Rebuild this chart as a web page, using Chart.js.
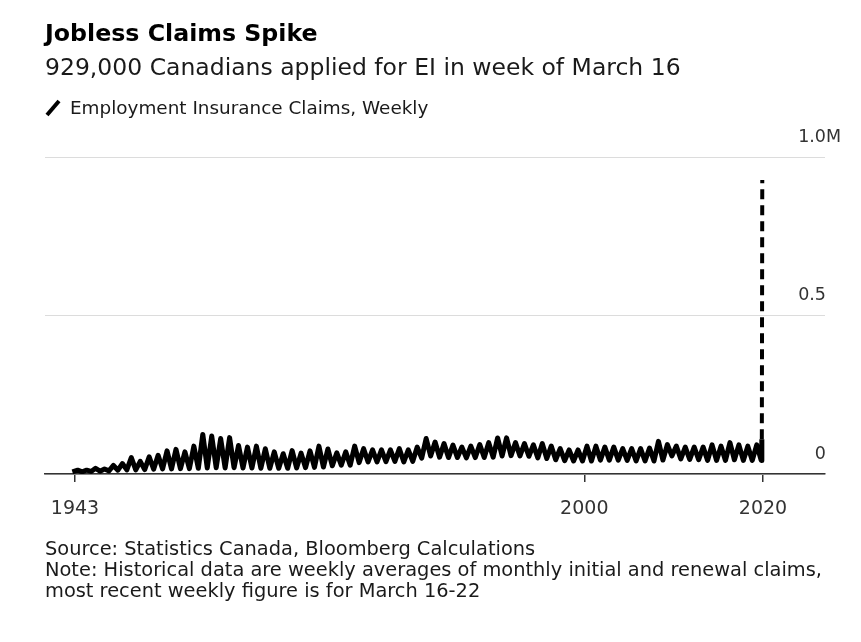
<!DOCTYPE html>
<html>
<head>
<meta charset="utf-8">
<script src="https://cdn.jsdelivr.net/npm/chart.js@4"></script>
<style>
  body { margin: 0; background: #fff; font-family: "DejaVu Sans", sans-serif; }
  #wrap { position: relative; width: 861px; height: 642px; overflow: hidden; }
  #chart { position: absolute; left: 0; top: 0; }
  .t { position: absolute; left: 45px; white-space: nowrap; line-height: 1; color: #1a1a1a; }
  #title { top: 22px; font-size: 23.7px; font-weight: bold; color: #000; }
  #sub { top: 56px; font-size: 23.5px; }
  #leg { top: 99px; left: 70px; font-size: 18.4px; }
  #icon { position: absolute; left: 44px; top: 99px; }
  #src { top: 538px; font-size: 19.4px; line-height: 21px; }
</style>
</head>
<body>
<div id="wrap">
  <canvas id="chart" width="861" height="642"></canvas>
  <div class="t" id="title">Jobless Claims Spike</div>
  <div class="t" id="sub">929,000 Canadians applied for EI in week of March 16</div>
  <svg id="icon" width="18" height="18"><line x1="3" y1="16" x2="15" y2="2" stroke="#000" stroke-width="4"/></svg>
  <div class="t" id="leg">Employment Insurance Claims, Weekly</div>
  <div class="t" id="src">Source: Statistics Canada, Bloomberg Calculations<br>Note: Historical data are weekly averages of monthly initial and renewal claims,<br>most recent weekly figure is for March 16-22</div>
</div>
<script>
// claims in thousands, seasonal high and low of each year
const years = [1943, 1944, 1945, 1946, 1947, 1948, 1949, 1950, 1951, 1952,
  1953, 1954, 1955, 1956, 1957, 1958, 1959, 1960, 1961, 1962,
  1963, 1964, 1965, 1966, 1967, 1968, 1969, 1970, 1971, 1972,
  1973, 1974, 1975, 1976, 1977, 1978, 1979, 1980, 1981, 1982,
  1983, 1984, 1985, 1986, 1987, 1988, 1989, 1990, 1991, 1992,
  1993, 1994, 1995, 1996, 1997, 1998, 1999, 2000, 2001, 2002,
  2003, 2004, 2005, 2006, 2007, 2008, 2009, 2010, 2011, 2012,
  2013, 2014, 2015, 2016, 2017, 2018, 2019];
const peaks = [12, 12, 18, 16, 27, 33, 52, 40, 54, 59,
  73, 78, 70, 88, 125, 120, 112, 115, 90, 85,
  88, 80, 70, 64, 74, 66, 73, 88, 79, 67,
  70, 88, 80, 76, 76, 76, 80, 76, 85, 112,
  101, 96, 91, 85, 88, 93, 99, 114, 114, 99,
  96, 92, 96, 88, 80, 76, 76, 88, 88, 85,
  85, 80, 80, 80, 82, 103, 93, 88, 85, 85,
  85, 92, 88, 99, 92, 88, 92];
const troughs = [7, 8, 9, 10, 12, 13, 13, 14, 15, 16,
  16, 17, 17, 18, 19, 20, 19, 20, 19, 19,
  18, 18, 18, 18, 19, 20, 21, 22, 26, 28,
  28, 36, 38, 38, 39, 40, 38, 40, 50, 57,
  53, 52, 52, 51, 52, 52, 53, 57, 58, 57,
  56, 51, 49, 45, 42, 41, 41, 41, 44, 44,
  44, 43, 41, 41, 41, 44, 57, 48, 46, 45,
  43, 43, 43, 45, 43, 43, 43];
const firstPoint = { x: 1942.7, y: 7 };
const lastMonth = { x: 2019.87, y: 110 };
const lastWeek = { x: 2019.92, y: 929 };   // week of March 16, 2020

const xTickYears = [1943, 2000, 2020];
const yTickLabels = ['0', '0.5', '1.0'];
const yUnit = 'M';

const points = [firstPoint];
years.forEach((yr, i) => {
  points.push({ x: yr + 0.3, y: peaks[i] });
  points.push({ x: yr + 0.8, y: troughs[i] });
});
points.push(lastMonth, lastWeek);

const isLast = c => c.p1DataIndex === points.length - 1;

const yLabels = {
  id: 'yLabels',
  afterDraw(chart) {
    const { ctx, chartArea, scales: { y } } = chart;
    ctx.save();
    ctx.font = '17.5px "DejaVu Sans"';
    ctx.fillStyle = '#333';
    ctx.textBaseline = 'middle';
    y.ticks.forEach((t, i) => {
      const py = y.getPixelForValue(t.value) - 20;
      ctx.textAlign = 'right';
      ctx.fillText(yTickLabels[i], chartArea.right + 1, py);
      if (i === y.ticks.length - 1) {
        ctx.textAlign = 'left';
        ctx.fillText(yUnit, chartArea.right + 1, py);
      }
    });
    ctx.restore();
  }
};

new Chart(document.getElementById('chart'), {
  type: 'line',
  data: {
    datasets: [{
      data: points,
      borderColor: '#000',
      borderWidth: 5,
      borderJoinStyle: 'round',
      pointRadius: 0,
      tension: 0,
      segment: {
        borderDash: c => isLast(c) ? [10, 6] : undefined,
        borderWidth: c => isLast(c) ? 4 : undefined
      }
    }]
  },
  options: {
    responsive: false,
    animation: false,
    layout: { padding: { top: 157.5, left: 45, right: 36, bottom: 118 } },
    scales: {
      x: {
        type: 'linear',
        min: 1939.64,
        max: 2026.94,
        afterBuildTicks: s => { s.ticks = xTickYears.map(v => ({ value: v })); },
        afterFit: s => { s.height = 50; },
        ticks: {
          autoSkip: false,
          maxRotation: 0,
          padding: 16,
          color: '#333',
          font: { family: 'DejaVu Sans', size: 19 },
          callback: v => String(v)
        },
        grid: { drawOnChartArea: false, drawTicks: true, tickLength: 8, color: '#333', lineWidth: 1.5 },
        border: { display: true, color: '#333', width: 1.5 }
      },
      y: {
        min: 0,
        max: 1000,
        afterFit: s => { s.width = 0; },
        ticks: { stepSize: 500, display: false },
        grid: { color: '#dcdcdc', lineWidth: 1, drawTicks: false },
        border: { display: false }
      }
    },
    plugins: {
      legend: { display: false },
      tooltip: { enabled: false }
    }
  },
  plugins: [yLabels]
});
</script>
</body>
</html>
